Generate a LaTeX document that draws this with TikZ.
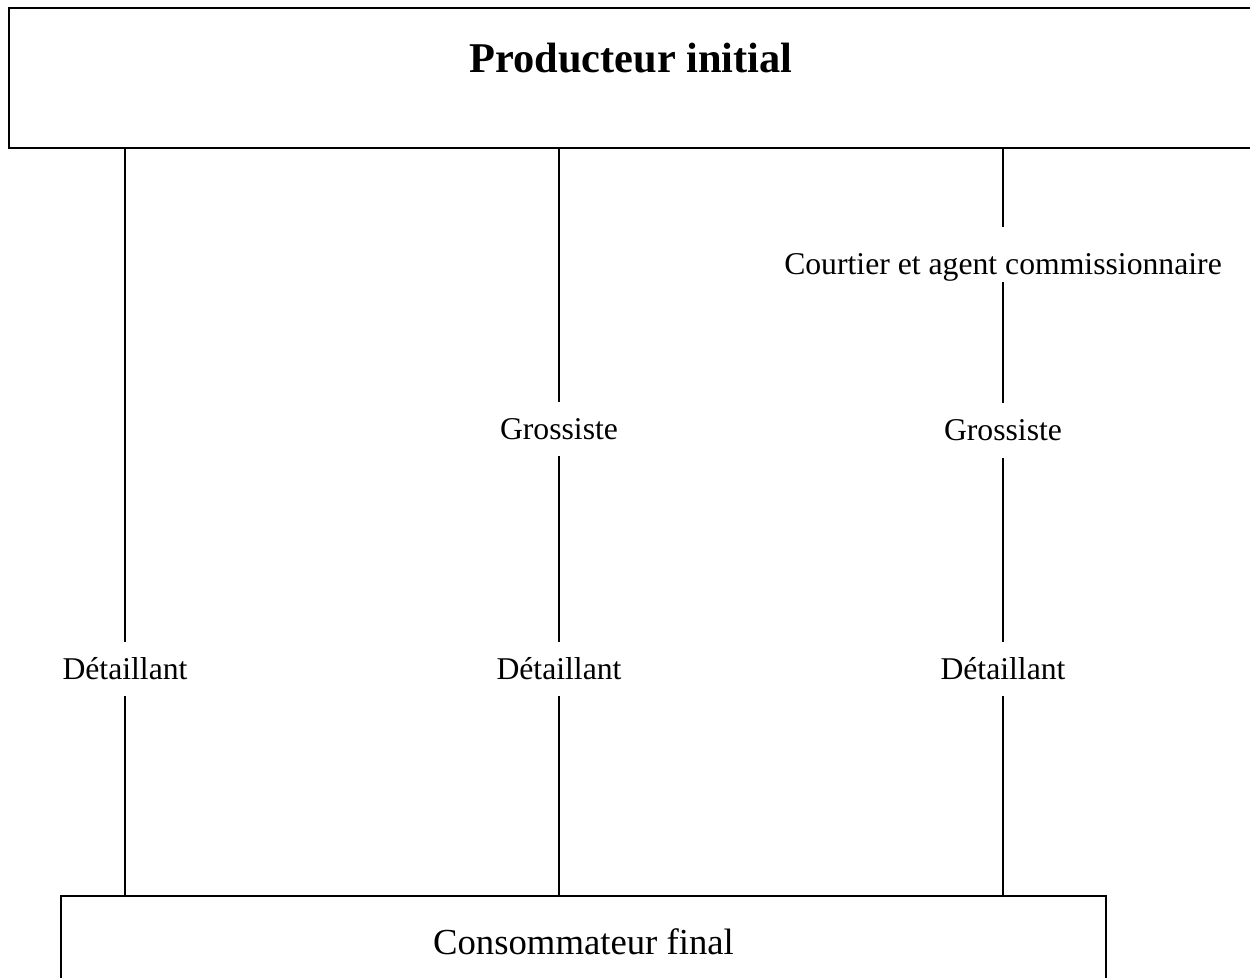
\documentclass[tikz,border=0pt]{standalone}
\usepackage{fontspec}
\setmainfont{Liberation Serif}
\begin{document}
\begin{tikzpicture}[x=1pt,y=1pt,
  box/.style={draw=black, line width=1.8pt, inner sep=0pt},
  lbl/.style={inner sep=0pt, anchor=base, text height=38pt, text depth=16pt, font=\fontsize{31.7}{38}\selectfont},
  link/.style={draw=black, line width=1.4pt}]
\useasboundingbox (0,0) rectangle (1250,977);
\node[box, minimum width=1244pt, minimum height=140pt, text height=20pt, text depth=30pt,
  font=\fontsize{42.4}{50}\bfseries\selectfont] (prod) at (631,899) {Producteur initial};
\node[box, minimum width=1045pt, minimum height=100pt, text height=30pt, text depth=12pt,
  font=\fontsize{36.7}{44}\selectfont] (cons) at (583.5,31) {Consommateur final};
% column 1
\node[lbl] (d1) at (125,297) {Détaillant};
% column 2
\node[lbl] (g2) at (559,537) {Grossiste};
\node[lbl] (d2) at (559,297) {Détaillant};
% column 3
\node[lbl, text height=48pt, text depth=7pt] (c3) at (1003,702) {Courtier et agent commissionnaire};
\node[lbl, text height=38pt, text depth=17pt] (g3) at (1003,536) {Grossiste};
\node[lbl] (d3) at (1003,297) {Détaillant};
% connectors
\draw[link] (d1.north |- prod.south) -- (d1.north);
\draw[link] (d1.south) -- (d1.south |- cons.north);
\draw[link] (g2.north |- prod.south) -- (g2.north);
\draw[link] (g2.south) -- (d2.north);
\draw[link] (d2.south) -- (d2.south |- cons.north);
\draw[link] (c3.north |- prod.south) -- (c3.north);
\draw[link] (c3.south) -- (g3.north);
\draw[link] (g3.south) -- (d3.north);
\draw[link] (d3.south) -- (d3.south |- cons.north);
\end{tikzpicture}
\end{document}
